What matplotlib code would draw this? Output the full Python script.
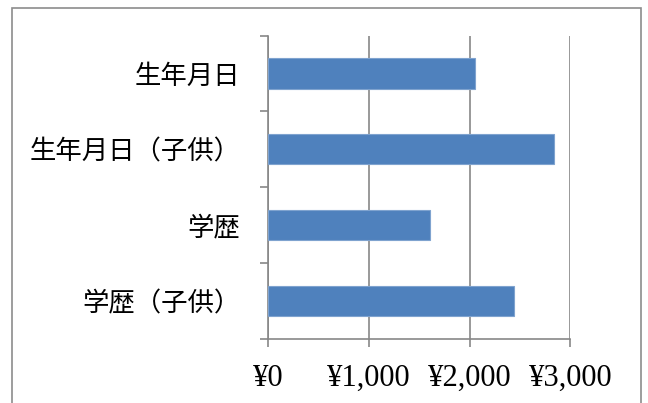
import matplotlib
matplotlib.use("Agg")
import matplotlib.pyplot as plt
from matplotlib.patches import Rectangle
from matplotlib.ticker import FuncFormatter

# =========================
# データ
# =========================

categories = ["生年月日", "生年月日（子供）", "学歴", "学歴（子供）"]
values = [2050, 2840, 1610, 2440]
x_ticks = [0, 1000, 2000, 3000]

W, H = 648, 403
grid_color = "#878787"

fig = plt.figure(figsize=(W / 100, H / 100), dpi=100)

# 外枠
fig.patches.append(Rectangle((12 / W, -0.01), 629 / W, 1 - 8 / H + 0.01,
                             transform=fig.transFigure, fill=False,
                             edgecolor="#8c8c8c", linewidth=1.2))

ax = fig.add_axes([268 / W, (H - 338.7) / H, (570.3 - 268) / W, (338.7 - 35.7) / H])

pos = list(range(len(categories)))[::-1]
ax.barh(pos, values, height=0.4, color="#4F81BD", edgecolor="#7fa3cf", linewidth=0.8, zorder=3)

ax.set_xlim(0, 3000)
ax.set_ylim(-0.5, len(categories) - 0.5)

ax.set_xticks(x_ticks)
ax.xaxis.set_major_formatter(FuncFormatter(lambda v, p: f"¥{int(v):,}"))
for lbl in ax.get_xticklabels():
    lbl.set_family(["Liberation Serif", "DejaVu Serif"])
    lbl.set_fontsize(22)

ax.set_yticks(pos)
ax.set_yticklabels(categories, family=["Noto Sans CJK JP", "DejaVu Sans"], fontsize=19)
ax.set_yticks([p + 0.5 for p in pos] + [-0.5], minor=True)

ax.tick_params(axis="y", which="major", length=0, pad=20)
ax.tick_params(axis="y", which="minor", length=6, width=1.2, color=grid_color, direction="out")
ax.tick_params(axis="x", length=6, width=1.2, color=grid_color, direction="out", pad=12)

ax.grid(axis="x", color=grid_color, linewidth=1.2, zorder=0)

for s in ["top", "right"]:
    ax.spines[s].set_visible(False)
for s in ["left", "bottom"]:
    ax.spines[s].set_color(grid_color)
    ax.spines[s].set_linewidth(1.2)

plt.savefig("out.png", dpi=100)
plt.close()
